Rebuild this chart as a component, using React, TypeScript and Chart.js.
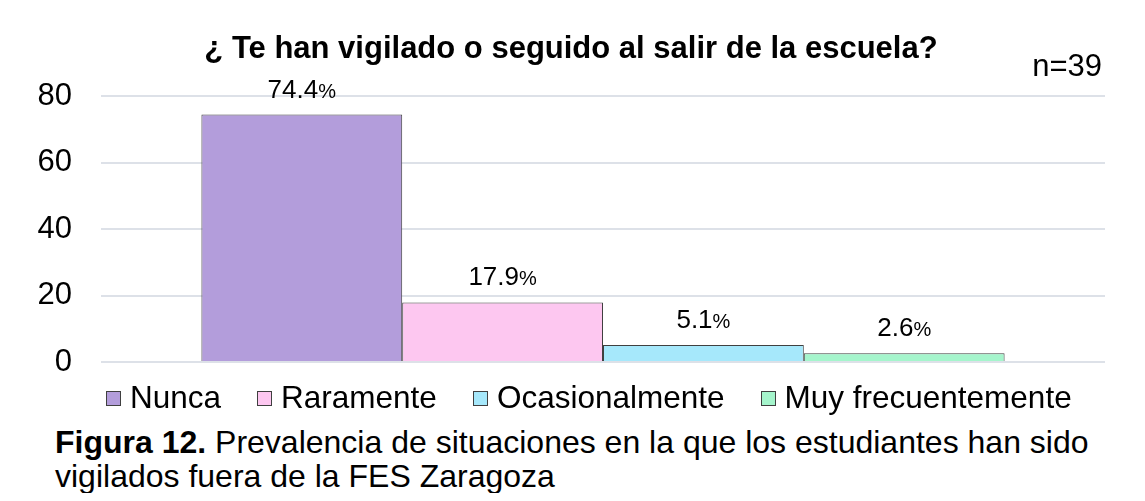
import React, { useEffect, useRef } from "react";
import { Chart, registerables } from "chart.js";

Chart.register(...registerables);

const categories = ["Nunca", "Raramente", "Ocasionalmente", "Muy frecuentemente"];
const values = [74.4, 17.9, 5.1, 2.6];
const colors = ["#b39ddb", "#fdc7f0", "#a6e8fb", "#a5f5cc"];
const yTicks = [0, 20, 40, 60, 80];
const titleText = "¿ Te han vigilado o seguido al salir de la escuela?";
const sampleText = "n=39";
const captionBold = "Figura 12.";
const captionLine1 = " Prevalencia de situaciones en la que los estudiantes han sido";
const captionLine2 = "vigilados fuera de la FES Zaragoza";

const FONT = "'Liberation Sans', Arial, sans-serif";
const BORDER = "#404040";

const W = 1137;
const H = 372;

const overlayPlugin = {
  id: "overlayText",
  afterDatasetsDraw(chart: any) {
    const ctx = chart.ctx;
    ctx.save();
    ctx.fillStyle = "#000";
    ctx.textBaseline = "alphabetic";
    chart.data.datasets.forEach((ds: any, i: number) => {
      const meta = chart.getDatasetMeta(i);
      const el = meta.data[0];
      if (!el) return;
      const num = Number(ds.data[0]).toFixed(1);
      ctx.font = `26px ${FONT}`;
      const wNum = ctx.measureText(num).width;
      ctx.font = `20px ${FONT}`;
      const wPct = ctx.measureText("%").width;
      const total = wNum + wPct;
      const x0 = el.x - total / 2;
      const base = el.y - 17;
      ctx.textAlign = "left";
      ctx.font = `26px ${FONT}`;
      ctx.fillText(num, x0, base);
      ctx.font = `20px ${FONT}`;
      ctx.fillText("%", x0 + wNum, base);
    });
    ctx.restore();
  },
  afterDraw(chart: any) {
    const ctx = chart.ctx;
    ctx.save();
    ctx.fillStyle = "#000";
    ctx.textBaseline = "alphabetic";
    ctx.font = `bold 31px ${FONT}`;
    ctx.textAlign = "center";
    ctx.fillText(titleText, 563, 50);
    ctx.font = `31px ${FONT}`;
    ctx.textAlign = "right";
    ctx.fillText(sampleText, 1094, 68);
    ctx.restore();
  },
};

export default function App() {
  const canvasRef = useRef<HTMLCanvasElement | null>(null);

  useEffect(() => {
    if (!canvasRef.current) return;
    const chart = new Chart(canvasRef.current, {
      type: "bar",
      data: {
        labels: [""],
        datasets: categories.map((c, i) => ({
          label: c,
          data: [values[i]],
          backgroundColor: colors[i],
          borderColor: BORDER,
          borderWidth: 1,
          categoryPercentage: 0.8,
          barPercentage: 1.0,
        })),
      },
      options: {
        animation: false,
        responsive: false,
        devicePixelRatio: 1,
        layout: { padding: { top: 88, right: 40, bottom: 18, left: 0 } },
        plugins: {
          legend: { display: false },
          title: { display: false },
          tooltip: { enabled: false },
        },
        scales: {
          x: { display: false },
          y: {
            min: 0,
            max: 80,
            afterBuildTicks: (scale: any) => {
              scale.ticks = yTicks.map((v) => ({ value: v }));
            },
            afterFit: (scale: any) => {
              scale.width = 93;
            },
            border: { display: false },
            grid: {
              color: "#dde1e8",
              lineWidth: 2,
              drawTicks: true,
              tickLength: 29,
              tickColor: "rgba(0,0,0,0)",
            },
            ticks: {
              padding: 0,
              color: "#000",
              font: { family: FONT, size: 31, lineHeight: 1 },
            },
          },
        },
      },
      plugins: [overlayPlugin],
    });
    return () => chart.destroy();
  }, []);

  return (
    <div style={{ position: "relative", width: W, height: 485, fontFamily: FONT, color: "#000" }}>
      <div
        style={{
          position: "absolute",
          left: -1,
          top: -1,
          width: 1138,
          height: 494,
          borderLeft: "1px solid #d9d9d9",
          borderTop: "1px solid #d9d9d9",
          boxSizing: "border-box",
        }}
      />
      <canvas
        ref={canvasRef}
        width={W}
        height={H}
        style={{ position: "absolute", left: 0, top: 0, width: W, height: H }}
      />
      <div
        style={{
          position: "absolute",
          left: 98,
          top: 371,
          fontSize: 31.5,
          lineHeight: "36px",
          whiteSpace: "nowrap",
        }}
      >
        {categories.map((c, i) => (
          <span key={c} style={{ marginRight: i < categories.length - 1 ? 36 : 0 }}>
            <span
              style={{
                display: "inline-block",
                width: 15,
                height: 15,
                boxSizing: "border-box",
                border: `1px solid ${BORDER}`,
                background: colors[i],
                marginRight: 9,
                marginBottom: 2,
                verticalAlign: "baseline",
              }}
            />
            {c}
          </span>
        ))}
      </div>
      <div
        style={{
          position: "absolute",
          left: 47,
          top: 417,
          fontSize: 32,
          lineHeight: "34px",
          whiteSpace: "nowrap",
        }}
      >
        <b>{captionBold}</b>
        {captionLine1}
        <br />
        {captionLine2}
      </div>
    </div>
  );
}
